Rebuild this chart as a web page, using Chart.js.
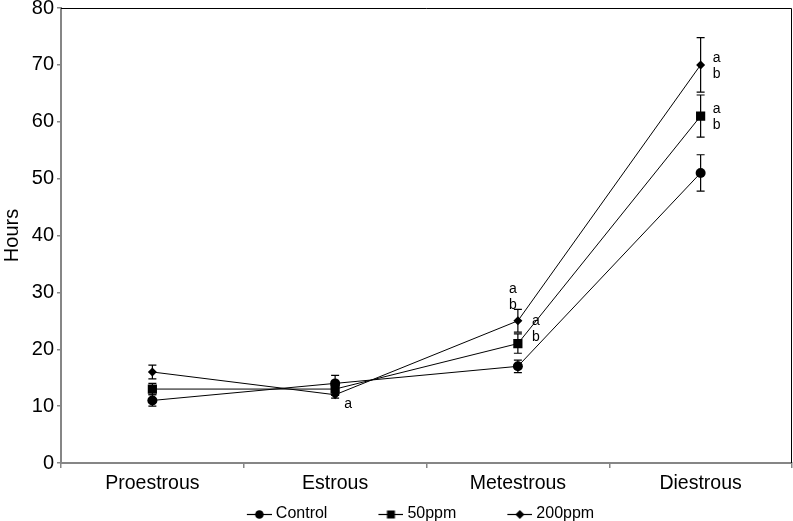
<!DOCTYPE html>
<html>
<head>
<meta charset="utf-8">
<script src="https://cdn.jsdelivr.net/npm/chart.js@4"></script>
<style>
  html, body { margin: 0; padding: 0; background: #fff; }
  #wrap { width: 793px; height: 521px; }
</style>
</head>
<body>
<div id="wrap"><canvas id="chart"></canvas></div>
<script>
// cycle stages and mean duration (hours) per group
var stages = ["Proestrous", "Estrous", "Metestrous", "Diestrous"];
var controlHours = [11, 14, 17, 51];
var controlErr = [1, 1.4, 1.1, 3.2];
var ppm50Hours = [13, 13, 21, 61];
var ppm50Err = [1, 1.1, 1.7, 3.7];
var ppm200Hours = [16, 12, 25, 70];
var ppm200Err = [1.2, 0.6, 2, 4.8];
// significance letters per stage
var controlSig = ["", "", "", ""];
var ppm50Sig = ["", "", "ab", "ab"];
var ppm200Sig = ["", "a", "ab", "ab"];
var yTicks = [0, 10, 20, 30, 40, 50, 60, 70, 80];

Chart.defaults.font.family = "'Liberation Sans', Arial, sans-serif";
Chart.defaults.color = "#000";

var axisGray = "#868686";

// small line+marker picture for the legend
function legendIcon(style, w) {
  var c = document.createElement("canvas");
  c.width = w; c.height = 14;
  var g = c.getContext("2d");
  g.strokeStyle = "#000"; g.fillStyle = "#000"; g.lineWidth = 1.2;
  g.beginPath(); g.moveTo(w - 25, 7.5); g.lineTo(w, 7.5); g.stroke();
  var cx = w - 12.5, cy = 7.5;
  g.beginPath();
  if (style === "circle") {
    g.arc(cx, cy, 4.3, 0, Math.PI * 2);
  } else if (style === "rect") {
    g.rect(cx - 4, cy - 4, 8, 8);
  } else {
    g.moveTo(cx - 4.5, cy); g.lineTo(cx, cy - 4.5); g.lineTo(cx + 4.5, cy); g.lineTo(cx, cy + 4.5);
    g.closePath();
  }
  g.fill();
  return c;
}

function series(label, values, err, sig, style, radius) {
  return {
    label: label,
    data: values,
    errors: err,
    letters: sig,
    borderColor: "#000",
    backgroundColor: "#000",
    borderWidth: 1,
    pointStyle: style,
    pointRadius: radius,
    pointHoverRadius: radius,
    pointBorderWidth: 0,
    tension: 0
  };
}

var errorBars = {
  id: "errorBars",
  beforeDatasetsDraw: function(chart) {
    var ctx = chart.ctx, y = chart.scales.y;
    ctx.save();
    ctx.strokeStyle = "#000";
    ctx.lineWidth = 1.2;
    chart.data.datasets.forEach(function(ds, di) {
      var meta = chart.getDatasetMeta(di);
      meta.data.forEach(function(pt, i) {
        var v = ds.data[i], e = ds.errors[i];
        var top = y.getPixelForValue(v + e), bot = y.getPixelForValue(v - e);
        ctx.beginPath();
        ctx.moveTo(pt.x, top); ctx.lineTo(pt.x, bot);
        ctx.moveTo(pt.x - 4, top); ctx.lineTo(pt.x + 4, top);
        ctx.moveTo(pt.x - 4, bot); ctx.lineTo(pt.x + 4, bot);
        ctx.stroke();
      });
    });
    ctx.restore();
  }
};

// where the letters sit next to a point (stage index, dataset index)
function letterOffset(si, di) {
  if (si === 1) return {dx: 13, dy: 9};
  if (si === 2 && di === 2) return {dx: -5, dy: -32};
  if (si === 2) return {dx: 18, dy: -22};
  return {dx: 16, dy: -7};
}

var sigLetters = {
  id: "sigLetters",
  afterDatasetsDraw: function(chart) {
    var ctx = chart.ctx;
    ctx.save();
    ctx.fillStyle = "#000";
    ctx.font = "14px 'Liberation Sans', Arial, sans-serif";
    ctx.textAlign = "center";
    ctx.textBaseline = "middle";
    chart.data.datasets.forEach(function(ds, di) {
      var meta = chart.getDatasetMeta(di);
      meta.data.forEach(function(pt, i) {
        var s = ds.letters[i];
        if (!s) return;
        var off = letterOffset(i, di);
        for (var k = 0; k < s.length; k++) {
          ctx.fillText(s[k], pt.x + off.dx, pt.y + off.dy + k * 16);
        }
      });
    });
    ctx.restore();
  }
};

var frame = {
  id: "frame",
  beforeDatasetsDraw: function(chart) {
    var a = chart.chartArea, ctx = chart.ctx;
    ctx.save();
    ctx.strokeStyle = "#000";
    ctx.lineWidth = 1;
    ctx.beginPath();
    ctx.moveTo(a.left, a.top + 0.5);
    ctx.lineTo(a.right - 0.5, a.top + 0.5);
    ctx.lineTo(a.right - 0.5, a.bottom);
    ctx.stroke();
    ctx.restore();
  }
};

var canvas = document.getElementById("chart");
var config = {
  type: "line",
  data: {
    labels: stages,
    datasets: [
      series("Control", controlHours, controlErr, controlSig, "circle", 5),
      series("50ppm", ppm50Hours, ppm50Err, ppm50Sig, "rect", 6.5),
      series("200ppm", ppm200Hours, ppm200Err, ppm200Sig, "rectRot", 4.5)
    ]
  },
  options: {
    responsive: true,
    maintainAspectRatio: false,
    animation: false,
    devicePixelRatio: 1,
    layout: { autoPadding: false, padding: { top: 0, right: 1, left: 0, bottom: -11 } },
    plugins: {
      tooltip: { enabled: false },
      legend: {
        position: "bottom",
        labels: {
          usePointStyle: true,
          pointStyleWidth: 70,
          padding: 2,
          color: "#000",
          font: { size: 16, lineHeight: 1 },
          generateLabels: function(chart) {
            return chart.data.datasets.map(function(ds, i) {
              return {
                text: ds.label,
                pointStyle: legendIcon(ds.pointStyle, 78),
                fillStyle: "#000",
                strokeStyle: "#000",
                lineWidth: 0,
                fontColor: "#000",
                hidden: !chart.isDatasetVisible(i),
                datasetIndex: i
              };
            });
          }
        }
      }
    },
    scales: {
      x: {
        offset: true,
        grid: { offset: true, drawOnChartArea: false, tickLength: 5, color: axisGray, lineWidth: 1.5 },
        border: { color: axisGray, width: 2 },
        ticks: { font: { size: 19.5 }, color: "#000", padding: 4, maxRotation: 0 },
        afterFit: function(s) { s.height = 41; s.paddingLeft = 0; s.paddingRight = 0; }
      },
      y: {
        min: 0,
        max: 80,
        afterBuildTicks: function(s) { s.ticks = yTicks.map(function(v) { return {value: v}; }); },
        grid: { drawOnChartArea: false, tickLength: 4, color: axisGray, lineWidth: 1.5 },
        border: { color: axisGray, width: 2 },
        ticks: { font: { size: 20, lineHeight: 1 }, color: "#000", padding: 3 },
        title: { display: true, text: "Hours", font: { size: 20 }, color: "#000", padding: 0 },
        afterFit: function(s) { s.width = 61; s.paddingTop = 8; s.paddingBottom = 8; }
      }
    }
  },
  plugins: [errorBars, sigLetters, frame]
};

var chart = new Chart(canvas, config);
</script>
</body>
</html>
